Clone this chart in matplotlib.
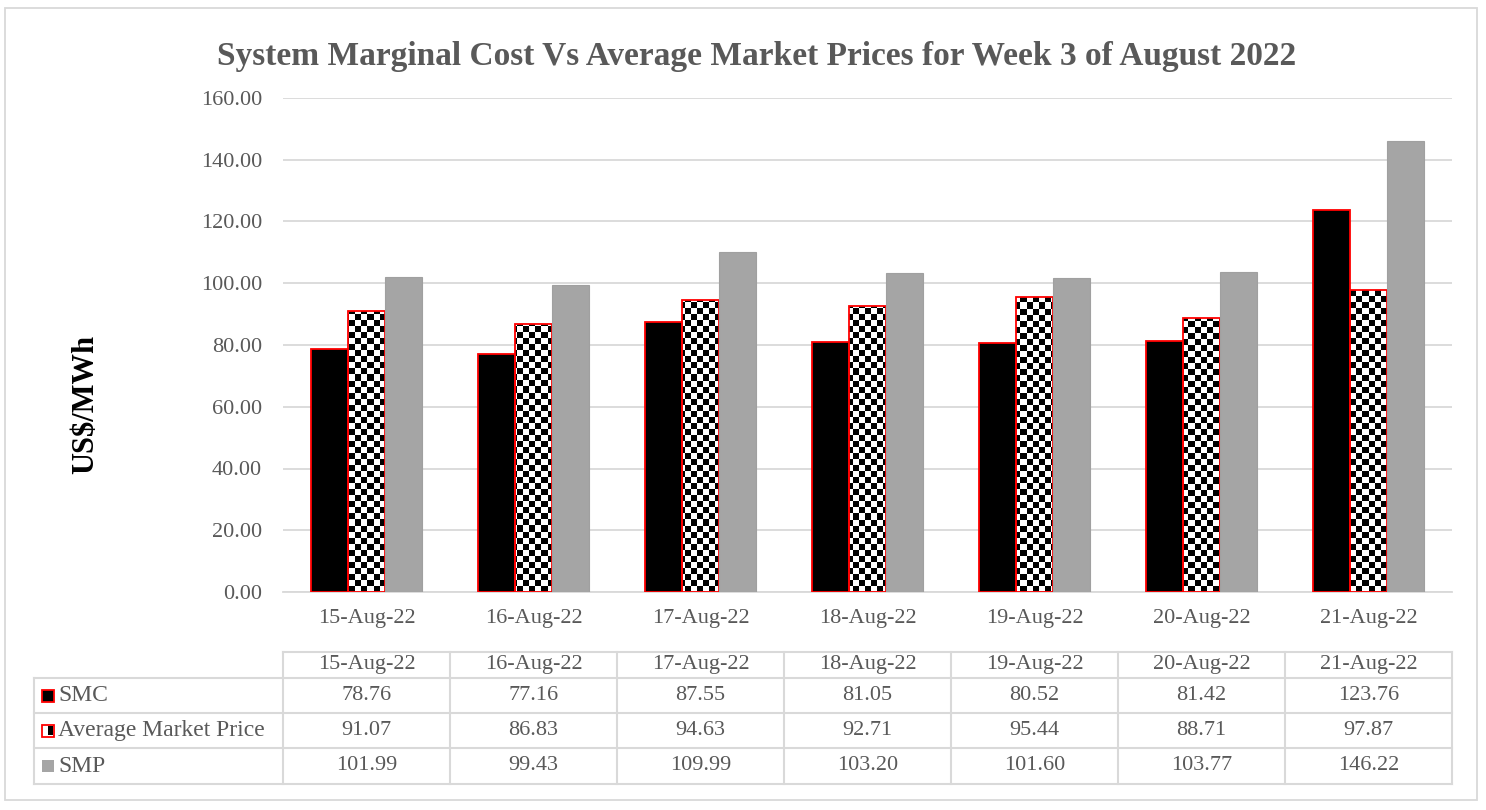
import numpy as np
import matplotlib.pyplot as plt
from matplotlib.patches import Rectangle

# data
dates = ["15-Aug-22", "16-Aug-22", "17-Aug-22", "18-Aug-22", "19-Aug-22", "20-Aug-22", "21-Aug-22"]
smc = [78.76, 77.16, 87.55, 81.05, 80.52, 81.42, 123.76]
avg_market_price = [91.07, 86.83, 94.63, 92.71, 95.44, 88.71, 97.87]
smp = [101.99, 99.43, 109.99, 103.20, 101.60, 103.77, 146.22]
series_names = ["SMC", "Average Market Price", "SMP"]

plt.rcParams['font.family'] = ['Liberation Serif', 'DejaVu Serif']
text_col = '#595959'
grid_col = '#D9D9D9'

W, H = 1486, 810
fig = plt.figure(figsize=(W / 100, H / 100), dpi=100)

# plot area in pixels
left_px, right_px, top_px, bot_px = 283, 1452, 98, 592
ax = fig.add_axes([left_px / W, 1 - bot_px / H, (right_px - left_px) / W, (bot_px - top_px) / H])

x = np.arange(len(dates))
bw = 0.222
bars_smc = ax.bar(x - bw, smc, bw, color='black', edgecolor='red', linewidth=1.3, zorder=3)
bars_amp = ax.bar(x, avg_market_price, bw, color='none', edgecolor='red', linewidth=1.3, zorder=3)
bars_smp = ax.bar(x + bw, smp, bw, color='#A5A5A5', edgecolor='#A0A0A0', linewidth=0.8, zorder=3)

# checkerboard fill for the average market price bars
ny, nx = 82, 195
checker = (np.add.outer(np.arange(ny), np.arange(nx)) % 2).astype(float)
for b in bars_amp:
    im = ax.imshow(checker, cmap='gray', extent=(-0.5, len(dates) - 0.5, 0, 160),
                   aspect='auto', interpolation='nearest', zorder=2.5)
    im.set_clip_path(b)
ax.set_xlim(-0.5, len(dates) - 0.5)
ax.set_ylim(0, 160)

ax.set_yticks(np.arange(0, 161, 20))
ax.set_yticklabels([f"{v:.2f}" for v in np.arange(0, 161, 20)])
ax.set_xticks(x)
ax.set_xticklabels(dates)
ax.tick_params(axis='both', length=0, labelsize=16, colors=text_col)
ax.tick_params(axis='x', pad=12)
ax.tick_params(axis='y', pad=15)
ax.grid(axis='y', color=grid_col, linewidth=1.3, zorder=0)
ax.set_axisbelow(True)
for s in ['top', 'left', 'right']:
    ax.spines[s].set_visible(False)
ax.spines['bottom'].set_color(grid_col)
ax.spines['bottom'].set_linewidth(1.3)

fig.text(757 / W, 1 - 57 / H, "System Marginal Cost Vs Average Market Prices for Week 3 of August 2022",
         ha='center', va='center', fontsize=24, fontweight='bold', color=text_col)
fig.text(86 / W, 1 - 404 / H, "US$/MWh", rotation=90, ha='center', va='center',
         fontsize=22, fontweight='bold', color='black')

# overlay in pixel coords for the data table and the border
ov = fig.add_axes([0, 0, 1, 1], zorder=-1)
ov.set_xlim(0, W)
ov.set_ylim(H, 0)
ov.axis('off')
ov.add_patch(Rectangle((5, 8), 1472, 792, fill=False, edgecolor=grid_col, linewidth=1.3))

tab = fig.add_axes([0, 0, 1, 1], zorder=2)
tab.set_xlim(0, W)
tab.set_ylim(H, 0)
tab.axis('off')
tab.patch.set_alpha(0)

col_w = (right_px - left_px) / len(dates)
col_edges = [left_px + i * col_w for i in range(len(dates) + 1)]
row_edges = [652, 678, 713, 748, 784]
lbl_left = 34
lc = dict(color=grid_col, linewidth=1.5)
tab.plot([left_px, right_px], [row_edges[0]] * 2, **lc)
for y in row_edges[1:]:
    tab.plot([lbl_left, right_px], [y, y], **lc)
for xe in col_edges:
    tab.plot([xe, xe], [row_edges[0], row_edges[-1]], **lc)
tab.plot([lbl_left, lbl_left], [row_edges[1], row_edges[-1]], **lc)

for i, d in enumerate(dates):
    cx = (col_edges[i] + col_edges[i + 1]) / 2
    tab.text(cx, (row_edges[0] + row_edges[1]) / 2, d, ha='center', va='center', fontsize=16, color=text_col)
    for r, vals in enumerate([smc, avg_market_price, smp]):
        tab.text(cx, (row_edges[r + 1] + row_edges[r + 2]) / 2, f"{vals[i]:.2f}",
                 ha='center', va='center', fontsize=16, color=text_col)

# row labels with legend keys
for r, name in enumerate(series_names):
    cy = (row_edges[r + 1] + row_edges[r + 2]) / 2
    if r == 0:
        tab.add_patch(Rectangle((42, cy - 6), 12, 12, facecolor='black', edgecolor='red', linewidth=1.3))
    elif r == 1:
        tab.add_patch(Rectangle((42, cy - 6), 12, 12, facecolor='white', edgecolor='red', linewidth=1.3))
        tab.add_patch(Rectangle((48, cy - 4.5), 4.5, 9, facecolor='black', edgecolor='none'))
    else:
        tab.add_patch(Rectangle((42, cy - 6), 12, 12, facecolor='#A5A5A5', edgecolor='none'))
    tab.text(58, cy, name, ha='left', va='center', fontsize=17, color=text_col)

fig.savefig("out.png", dpi=100, facecolor='white')
